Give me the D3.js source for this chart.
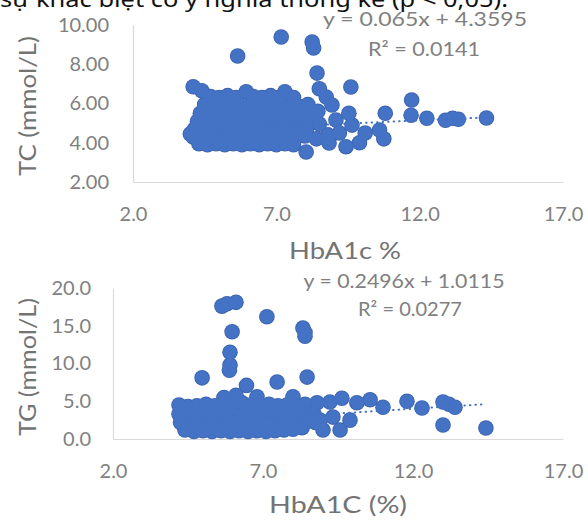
<!DOCTYPE html>
<html lang="vi">
<head>
<meta charset="UTF-8">
<title>HbA1c - TC / TG</title>
<style>
  body { margin: 0; background: #fff; }
  svg text { font-family: Lato, 'Liberation Sans', sans-serif; }
</style>
</head>
<body>
<script src="https://cdn.jsdelivr.net/npm/d3@7/dist/d3.min.js"></script>
<script>
  // ---- data ----
  const headerText = 'sự khác biệt có ý nghĩa thống kê (p < 0,05).';

  const xTicks = [2, 7, 12, 17];
  const tcTicks = [2, 4, 6, 8, 10];
  const tgTicks = [0, 5, 10, 15, 20];

  // HbA1c (%) , TC (mmol/L)
  const tcPoints = [
    [4.1, 6.85], [4.4, 6.65], [5.65, 8.42], [7.17, 9.39], [8.25, 9.13], [8.3, 8.83],
    [8.42, 7.55], [8.5, 6.75], [9.6, 6.84], [8.04, 3.53],
    [4.7, 6.35], [5.0, 6.3], [5.3, 6.4], [5.6, 6.3], [5.95, 6.6], [6.2, 6.35], [6.5, 6.3],
    [6.8, 6.4], [7.1, 6.3], [7.3, 6.6], [7.6, 6.3],
    [4.5, 5.95], [4.8, 5.9], [5.1, 5.85], [5.4, 5.95], [5.7, 5.9], [6.0, 5.85], [6.3, 5.95],
    [6.6, 5.9], [6.9, 5.85], [7.2, 5.95], [7.5, 5.9], [7.8, 5.85], [8.1, 5.95],
    [4.35, 5.5], [4.65, 5.45], [4.95, 5.55], [5.25, 5.5], [5.55, 5.45], [5.85, 5.5], [6.15, 5.55],
    [6.45, 5.5], [6.75, 5.45], [7.05, 5.5], [7.35, 5.55], [7.65, 5.5], [7.95, 5.45], [8.2, 5.55],
    [4.25, 5.1], [4.55, 5.15], [4.85, 5.05], [5.15, 5.1], [5.45, 5.15], [5.75, 5.05], [6.05, 5.1],
    [6.35, 5.15], [6.65, 5.05], [6.95, 5.1], [7.25, 5.15], [7.55, 5.05], [7.85, 5.1], [8.15, 5.15],
    [4.15, 4.7], [4.45, 4.65], [4.75, 4.75], [5.05, 4.7], [5.35, 4.65], [5.65, 4.75], [5.95, 4.7],
    [6.25, 4.65], [6.55, 4.75], [6.85, 4.7], [7.15, 4.65], [7.45, 4.75], [7.75, 4.7], [8.05, 4.65],
    [4.0, 4.45], [4.1, 4.3], [4.4, 4.35], [4.7, 4.25], [5.0, 4.3], [5.3, 4.35], [5.6, 4.25], [5.9, 4.3],
    [6.2, 4.35], [6.5, 4.25], [6.8, 4.3], [7.1, 4.35], [7.4, 4.25], [7.7, 4.3], [8.0, 4.35],
    [4.3, 3.95], [4.6, 3.9], [4.9, 3.95], [5.2, 3.9], [5.5, 3.95], [5.8, 3.9], [6.1, 3.95],
    [6.4, 3.9], [6.7, 3.95], [7.0, 3.9], [7.3, 3.95], [7.6, 3.9],
    [8.74, 6.33], [8.94, 5.92], [8.45, 5.6], [9.53, 5.5], [9.08, 5.16], [8.5, 4.95], [9.64, 4.9],
    [8.8, 4.4], [9.2, 4.5], [10.1, 4.5], [10.6, 4.65], [10.8, 5.5], [10.75, 4.2], [8.84, 3.99],
    [9.43, 3.8], [9.9, 4.0], [8.4, 4.2],
    [11.72, 6.18], [11.7, 5.4], [12.25, 5.25], [12.9, 5.15], [13.15, 5.25], [13.35, 5.2], [14.33, 5.26]
  ];

  // HbA1c (%) , TG (mmol/L)
  const tgPoints = [
    [5.63, 17.6], [5.8, 17.9], [6.1, 18.1], [7.13, 16.2], [5.97, 14.2], [8.33, 14.7], [8.4, 14.1],
    [8.4, 13.6], [5.9, 11.5], [5.9, 9.8], [5.88, 9.1], [4.97, 8.1], [7.47, 7.55], [8.47, 8.2],
    [6.45, 7.1], [6.1, 5.8], [6.8, 5.6], [5.7, 5.5], [8.0, 5.6],
    [4.2, 4.5], [4.5, 4.3], [4.8, 4.4], [5.1, 4.6], [5.4, 4.4], [5.7, 4.5], [6.0, 4.7], [6.3, 4.8],
    [6.6, 4.5], [6.9, 4.4], [7.2, 4.6], [7.5, 4.4], [7.8, 4.5], [8.1, 4.3], [8.4, 4.6],
    [4.2, 3.3], [4.5, 3.2], [4.8, 3.4], [5.1, 3.3], [5.4, 3.2], [5.7, 3.4], [6.0, 3.3], [6.3, 3.2],
    [6.6, 3.4], [6.9, 3.3], [7.2, 3.2], [7.5, 3.4], [7.8, 3.3], [8.1, 3.2], [8.4, 3.4], [8.7, 3.3],
    [4.25, 2.2], [4.55, 2.1], [4.85, 2.3], [5.15, 2.2], [5.45, 2.1], [5.75, 2.3], [6.05, 2.2],
    [6.35, 2.1], [6.65, 2.3], [6.95, 2.2], [7.25, 2.1], [7.55, 2.3], [7.85, 2.2], [8.15, 2.1],
    [8.45, 2.3], [8.75, 2.2],
    [4.4, 1.2], [4.7, 1.0], [5.0, 1.1], [5.3, 1.0], [5.6, 1.1], [5.9, 1.0], [6.2, 1.1], [6.5, 1.0],
    [6.8, 1.1], [7.1, 1.0], [7.4, 1.1], [7.7, 1.2], [8.0, 1.3], [8.3, 1.5],
    [8.8, 4.8], [9.23, 4.9], [9.63, 5.4], [10.13, 4.8], [10.57, 5.2], [11.0, 4.2], [11.8, 5.0],
    [8.9, 2.5], [9.33, 2.9], [9.9, 2.5], [9.57, 1.2], [9.0, 1.2],
    [12.3, 4.1], [13.0, 4.9], [13.2, 4.6], [13.4, 4.2], [13.0, 1.85], [14.43, 1.46]
  ];

  const tcTrend = [0.065, 4.3595];
  const tgTrend = [0.2496, 1.0115];
  const tcLabels = ['y = 0.065x + 4.3595', 'R² = 0.0141'];
  const tgLabels = ['y = 0.2496x + 1.0115', 'R² = 0.0277'];

  // ---- drawing ----
  const w = 588;
  const h = 520;
  const dotFill = '#4472c4';
  const dotEdge = '#3a62ac';
  const grey = '#808080';
  const r = 7;

  const svg = d3.select('body')
    .append('svg')
    .attr('width', w)
    .attr('height', h);

  // cut-off sentence at the top of the page
  svg.append('text')
    .attr('x', 0)
    .attr('y', 7)
    .attr('font-size', 22)
    .attr('fill', '#111')
    .style('font-family', "'Noto Sans', sans-serif")
    .attr('textLength', 508)
    .attr('lengthAdjust', 'spacingAndGlyphs')
    .text(headerText);

  function drawPanel(p) {
    const x = d3.scaleLinear().domain([2, 17]).range(p.xRange);
    const y = d3.scaleLinear().domain(p.yDomain).range(p.yRange);
    const g = svg.append('g');

    const yAxis = g.append('g')
      .attr('transform', `translate(${p.xRange[0]},0)`)
      .call(d3.axisLeft(y).tickValues(p.yTicks).tickFormat(p.yFormat)
        .tickSize(0).tickSizeOuter(0).tickPadding(p.yPad));

    const xAxis = g.append('g')
      .attr('transform', `translate(0,${p.yRange[0]})`)
      .call(d3.axisBottom(x).tickValues(xTicks).tickFormat(d3.format('.1f'))
        .tickSize(0).tickSizeOuter(0).tickPadding(25));

    [yAxis, xAxis].forEach(a => {
      a.select('.domain').attr('stroke', '#d9d9d9').attr('stroke-width', 1.2);
      a.selectAll('text')
        .attr('fill', grey)
        .attr('font-size', 20)
        .style('font-family', 'Lato, sans-serif');
    });

    // markers: a darker rim layer under the fill layer, so that
    // overlapping markers merge into one solid blob
    const dots = g.append('g');
    dots.selectAll('circle.rim')
      .data(p.points)
      .enter()
      .append('circle')
      .attr('class', 'rim')
      .attr('cx', d => x(d[0]))
      .attr('cy', d => y(d[1]))
      .attr('r', r + 0.8)
      .attr('fill', dotEdge);
    dots.selectAll('circle.dot')
      .data(p.points)
      .enter()
      .append('circle')
      .attr('class', 'dot')
      .attr('cx', d => x(d[0]))
      .attr('cy', d => y(d[1]))
      .attr('r', r)
      .attr('fill', dotFill);

    // linear trendline (dotted), from min to max HbA1c
    const xs = d3.extent(p.points, d => d[0]);
    g.append('path')
      .datum(xs.map(v => [v, p.trend[0] * v + p.trend[1]]))
      .attr('d', d3.line().x(d => x(d[0])).y(d => y(d[1])))
      .attr('fill', 'none')
      .attr('stroke', dotFill)
      .attr('stroke-width', 2)
      .attr('stroke-linecap', 'round')
      .attr('stroke-dasharray', '0.5,5');

    // equation labels
    p.labels.forEach((t, i) => {
      g.append('text')
        .attr('x', p.labelPos[i][0])
        .attr('y', p.labelPos[i][1])
        .attr('text-anchor', 'middle')
        .attr('dominant-baseline', 'central')
        .attr('font-size', 19)
        .attr('fill', grey)
        .attr('textLength', p.labelLen[i])
        .attr('lengthAdjust', 'spacingAndGlyphs')
        .text(t);
    });

    // axis titles
    g.append('text')
      .attr('transform', `translate(27,${p.yTitlePos}) rotate(-90)`)
      .attr('text-anchor', 'middle')
      .attr('dominant-baseline', 'central')
      .attr('font-size', 23)
      .attr('fill', '#737373')
      .attr('textLength', p.yTitleLen)
      .attr('lengthAdjust', 'spacingAndGlyphs')
      .text(p.yTitle);

    g.append('text')
      .attr('x', p.xTitlePos[0])
      .attr('y', p.xTitlePos[1])
      .attr('text-anchor', 'middle')
      .attr('dominant-baseline', 'central')
      .attr('font-size', 23)
      .attr('fill', '#737373')
      .attr('textLength', p.xTitleLen)
      .attr('lengthAdjust', 'spacingAndGlyphs')
      .text(p.xTitle);
  }

  drawPanel({
    points: tcPoints,
    trend: tcTrend,
    labels: tcLabels,
    labelPos: [[425, 18], [424, 48]],
    labelLen: [204, 112],
    xRange: [133, 563],
    yDomain: [2, 10],
    yRange: [182, 25],
    yTicks: tcTicks,
    yFormat: d3.format('.2f'),
    yPad: 24,
    yTitle: 'TC  (mmol/L)',
    yTitlePos: 106,
    yTitleLen: 140,
    xTitle: 'HbA1c  %',
    xTitlePos: [345, 250],
    xTitleLen: 112
  });

  drawPanel({
    points: tgPoints,
    trend: tgTrend,
    labels: tgLabels,
    labelPos: [[404, 280], [410, 308]],
    labelLen: [201, 104],
    xRange: [113, 563],
    yDomain: [0, 20],
    yRange: [439, 288],
    yTicks: tgTicks,
    yFormat: d3.format('.1f'),
    yPad: 22,
    yTitle: 'TG  (mmol/L)',
    yTitlePos: 367,
    yTitleLen: 138,
    xTitle: 'HbA1C  (%)',
    xTitlePos: [338, 504],
    xTitleLen: 138
  });
</script>
</body>
</html>
